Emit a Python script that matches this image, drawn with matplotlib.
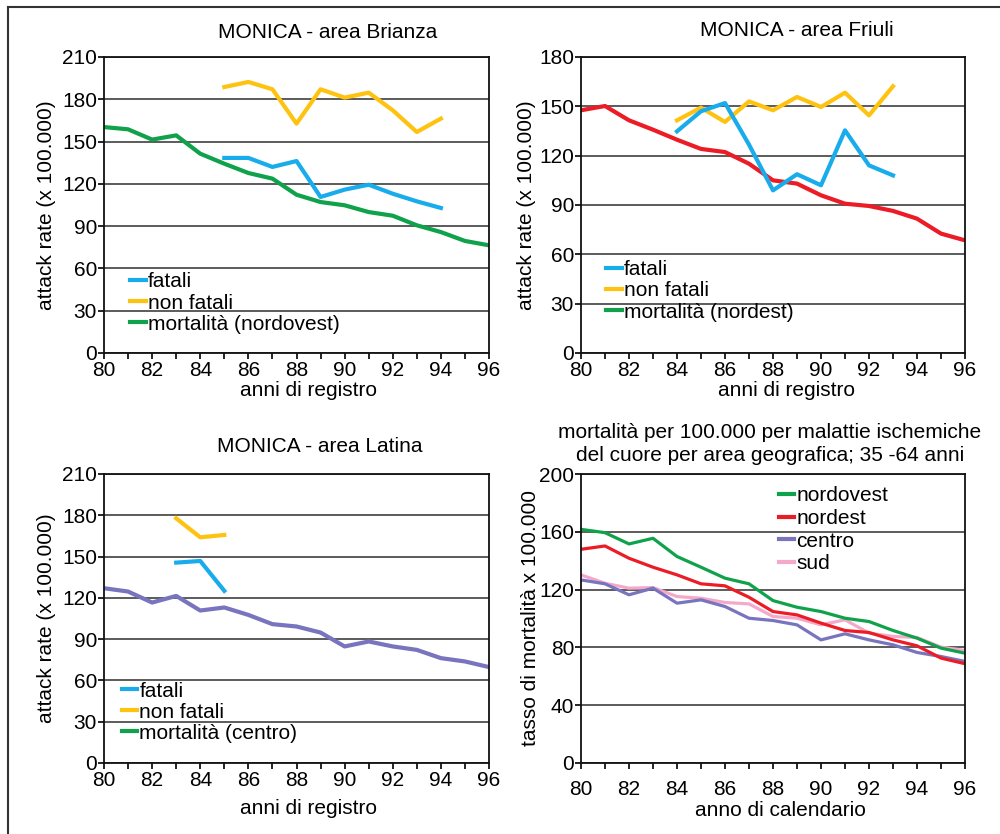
import matplotlib
matplotlib.use("Agg")
import matplotlib.pyplot as plt
from matplotlib.lines import Line2D

plt.rcParams['font.family'] = ['Liberation Sans', 'DejaVu Sans']

# ---- data ----
years = list(range(80, 97))

# Brianza (nordovest)
brianza_years = list(range(85, 95))
brianza_fatali = [138.4, 138.4, 132.0, 136.2, 110.7, 115.9, 119.4, 113.0, 107.6, 102.9]
brianza_non_fatali = [188.7, 192.3, 187.1, 162.7, 187.1, 181.2, 184.7, 172.2, 156.8, 166.3]
mort_nordovest = [160.3, 158.7, 151.4, 154.4, 141.4, 134.3, 127.7, 123.7, 112.3,
                  107.1, 104.8, 100.0, 97.4, 90.6, 85.8, 79.5, 76.4]

# Friuli (nordest)
friuli_years = list(range(84, 94))
friuli_fatali = [134.8, 147.0, 152.0, 126.7, 98.9, 108.7, 102.0, 135.4, 114.1, 108.0]
friuli_non_fatali = [141.5, 149.2, 140.5, 153.0, 147.6, 155.7, 149.6, 158.3, 144.5, 162.2]
mort_nordest = [147.6, 150.2, 141.5, 135.8, 129.7, 124.1, 122.2, 115.1, 105.0,
                103.0, 95.9, 90.8, 89.4, 86.4, 81.7, 72.6, 68.5]

# Latina (centro)
latina_years = [83, 84, 85]
latina_fatali = [145.6, 146.8, 125.1]
latina_non_fatali = [177.8, 164.0, 165.7]
mort_centro = [127.0, 124.6, 116.6, 121.4, 110.8, 113.0, 107.6, 100.9, 99.2,
               94.8, 84.7, 88.3, 84.7, 82.2, 76.2, 73.8, 69.7]

# Mortality by geographic area, 35-64 years
area_nordovest = [161.7, 159.4, 151.6, 155.5, 142.9, 135.5, 127.9, 124.0, 112.4,
                  107.8, 104.8, 100.2, 97.9, 91.7, 86.4, 79.5, 76.0]
area_nordest = [147.9, 150.2, 141.7, 135.5, 130.2, 124.0, 122.6, 114.7, 104.8,
                102.5, 96.8, 91.7, 90.3, 85.2, 81.1, 72.6, 68.7]
area_centro = [126.7, 124.0, 116.4, 121.0, 110.6, 112.9, 108.3, 100.2, 98.6,
               95.6, 85.2, 89.4, 85.2, 81.8, 76.5, 73.7, 70.3]
area_sud = [130.2, 124.4, 121.0, 121.4, 115.2, 114.0, 111.1, 110.1, 101.4,
            100.2, 95.6, 99.1, 89.9, 87.6, 86.9, 80.2, 77.9]

xtick_labels = ['80', '82', '84', '86', '88', '90', '92', '94', '96']

# ---- styling ----
BLUE = '#19acec'
YELLOW = '#fec311'
GREEN = '#0fa24b'
RED = '#ec1c26'
PURPLE = '#7874be'
PINK = '#f4a9cb'
GRID = '#404040'
FS = 15

W, H = 1000, 834
fig = plt.figure(figsize=(W / 100, H / 100), dpi=100)


def px(x, y):
    return x / W, 1 - y / H


def make_axes(left, top, right, bottom):
    l, t = px(left, top)
    r, b = px(right, bottom)
    return fig.add_axes([l, b, r - l, t - b])


def style(ax, ymax, ystep, xpad):
    ax.set_xlim(80, 96)
    ax.set_ylim(0, ymax)
    ax.set_xticks(years, minor=True)
    ax.set_xticks(range(80, 97, 2))
    ax.set_xticklabels(xtick_labels)
    ax.set_yticks(range(0, ymax + 1, ystep))
    ax.tick_params(axis='x', which='both', direction='out', length=4, width=1.2,
                   labelsize=FS, pad=xpad)
    ax.tick_params(axis='y', direction='out', length=4, width=1.2,
                   labelsize=FS, pad=1)
    for s in ax.spines.values():
        s.set_linewidth(1.3)
        s.set_color('#111111')
    ax.grid(axis='y', color=GRID, linewidth=1.2)
    ax.set_axisbelow(True)


def legend(ax, labels, colors, x, y, spacing=0.1):
    handles = [Line2D([0], [0], color=c, lw=3) for c in colors]
    ax.legend(handles, labels, loc='upper left', bbox_to_anchor=(x, y),
              frameon=False, fontsize=FS, handlelength=0.75, handletextpad=0.1,
              borderpad=0, borderaxespad=0, labelspacing=spacing)


LW = 3.0
leg_labels = ['fatali', 'non fatali']

# Panel 1: Brianza
ax1 = make_axes(104, 57, 489, 353)
style(ax1, 210, 30, 2)
ax1.plot(years, mort_nordovest, color=GREEN, lw=LW, solid_joinstyle='round')
ax1.plot(brianza_years, brianza_non_fatali, color=YELLOW, lw=LW, solid_joinstyle='round')
ax1.plot(brianza_years, brianza_fatali, color=BLUE, lw=LW, solid_joinstyle='round')
legend(ax1, leg_labels + ['mortalità (nordovest)'], [BLUE, YELLOW, GREEN], 0.068, 0.272)

# Panel 2: Friuli
ax2 = make_axes(581, 57, 965, 353)
style(ax2, 180, 30, 2)
ax2.plot(years, mort_nordest, color=RED, lw=LW, solid_joinstyle='round')
ax2.plot(friuli_years, friuli_non_fatali, color=YELLOW, lw=LW, solid_joinstyle='round')
ax2.plot(friuli_years, friuli_fatali, color=BLUE, lw=LW, solid_joinstyle='round')
legend(ax2, leg_labels + ['mortalità (nordest)'], [BLUE, YELLOW, GREEN], 0.066, 0.313)

# Panel 3: Latina
ax3 = make_axes(104, 474, 489, 763)
style(ax3, 210, 30, 2)
ax3.plot(years, mort_centro, color=PURPLE, lw=LW, solid_joinstyle='round')
ax3.plot(latina_years, latina_non_fatali, color=YELLOW, lw=LW, solid_joinstyle='round')
ax3.plot(latina_years, latina_fatali, color=BLUE, lw=LW, solid_joinstyle='round')
legend(ax3, leg_labels + ['mortalità (centro)'], [BLUE, YELLOW, GREEN], 0.046, 0.282)

# Panel 4: mortality by area
ax4 = make_axes(581, 474, 965, 763)
style(ax4, 200, 40, 8)
LW4 = 2.3
ax4.plot(years, area_sud, color=PINK, lw=LW4)
ax4.plot(years, area_centro, color=PURPLE, lw=LW4)
ax4.plot(years, area_nordest, color=RED, lw=LW4)
ax4.plot(years, area_nordovest, color=GREEN, lw=LW4)
legend(ax4, ['nordovest', 'nordest', 'centro', 'sud'], [GREEN, RED, PURPLE, PINK],
       0.515, 0.957, spacing=0.17)

# ---- titles and axis labels ----
def ftext(x, y, s, **kw):
    fig.text(*px(x, y), s, ha='center', va='center', fontsize=FS, **kw)

ftext(328, 33, 'MONICA - area Brianza')
ftext(797, 31, 'MONICA - area Friuli')
ftext(320, 447, 'MONICA - area Latina')
ftext(770, 432, 'mortalità per 100.000 per malattie ischemiche')
ftext(770, 455, 'del cuore per area geografica; 35 -64 anni')

ftext(309, 390, 'anni di registro')
ftext(786, 390, 'anni di registro')
ftext(309, 808, 'anni di registro')
ftext(780, 811, 'anno di calendario')

ftext(47, 205, 'attack rate (x 100.000)', rotation=90)
ftext(527, 205, 'attack rate (x 100.000)', rotation=90)
ftext(47, 618, 'attack rate (x 100.000)', rotation=90)
ftext(530, 618, 'tasso di mortalità x 100.000', rotation=90)

# outer frame (top and left edges)
fig.add_artist(Line2D([8 / W, 1.0], [1 - 7 / H, 1 - 7 / H], color='#333333', lw=1.5,
                      transform=fig.transFigure))
fig.add_artist(Line2D([8 / W, 8 / W], [0.0, 1 - 7 / H], color='#333333', lw=1.5,
                      transform=fig.transFigure))

fig.savefig('out.png', dpi=100, facecolor='white')
